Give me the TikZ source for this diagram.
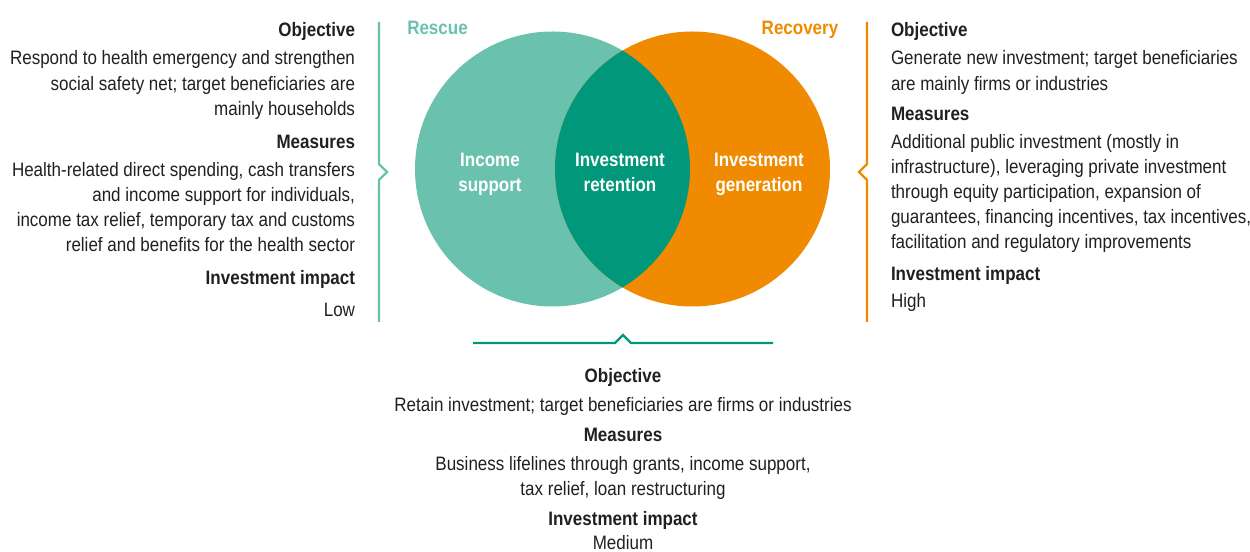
\documentclass[tikz,border=0pt]{standalone}
\usepackage{fontspec}
\setmainfont{Liberation Sans}[FakeStretch=0.875]
\definecolor{lteal}{HTML}{6AC2AE}
\definecolor{dgreen}{HTML}{00977A}
\definecolor{orng}{HTML}{F08A00}
\definecolor{txt}{HTML}{231F20}
\begin{document}
\begin{tikzpicture}[x=1bp,y=-1bp,
  every node/.style={inner sep=0pt,outer sep=0pt},
  body/.style={font=\fontsize{19.5}{25}\selectfont,text=txt},
  head/.style={font=\fontsize{19.5}{25}\selectfont\bfseries,text=txt},
  lft/.style={anchor=base east},
  rgt/.style={anchor=base west},
  mid/.style={anchor=base},
  clabel/.style={font=\fontsize{19.5}{25}\selectfont\bfseries,text=white,align=center},
  brk/.style={line width=2.4bp,line join=miter}]
\useasboundingbox (0,0) rectangle (1250,552);
% circles
\fill[lteal] (552.5,169) circle (137.5);
\fill[orng] (692.5,169) circle (137.5);
\begin{scope}
  \clip (552.5,169) circle (137.5);
  \fill[dgreen] (692.5,169) circle (137.5);
\end{scope}
\node[clabel] (cinc) at (490,174.5) {Income\\support};
\node[clabel] (cret) at (620,172.5) {Investment\\retention};
\node[clabel] (cgen) at (759,174.5) {Investment\\generation};
\node[font=\fontsize{19.5}{25}\selectfont\bfseries,text=lteal,anchor=base] (rescue) at (437.5,35) {Rescue};
\node[font=\fontsize{19.5}{25}\selectfont\bfseries,text=orng,anchor=base] (recov) at (800,35) {Recovery};
% brackets
\coordinate (lbt) at (379,22); \coordinate (lbb) at (379,322);
\draw[brk,lteal] (lbt) -- (379,164) -- (387,172) -- (379,180) -- (lbb);
\coordinate (rbt) at (867,22); \coordinate (rbb) at (867,322);
\draw[brk,orng] (rbt) -- (867,164) -- (859,172) -- (867,180) -- (rbb);
\coordinate (bbl) at (473,343); \coordinate (bbr) at (773,343);
\draw[brk,dgreen] (bbl) -- (615,343) -- (623,335) -- (631,343) -- (bbr);
% left text
\node[head,lft] (lh1) at (355,37) {Objective};
\node[body,lft] (la1) at (355,65) {Respond to health emergency and strengthen};
\node[body,lft] (la2) at (355,91) {social safety net; target beneficiaries are};
\node[body,lft] (la3) at (355,116) {mainly households};
\node[head,lft] (lh2) at (355,149) {Measures};
\node[body,lft] (lb1) at (355,177) {Health-related direct spending, cash transfers};
\node[body,lft] (lb2) at (355,202) {and income support for individuals,};
\node[body,lft] (lb3) at (355,227) {income tax relief, temporary tax and customs};
\node[body,lft] (lb4) at (355,252) {relief and benefits for the health sector};
\node[head,lft] (lh3) at (355,285) {Investment impact};
\node[body,lft] (lc1) at (355,317) {Low};
% right text
\node[head,rgt] (rh1) at (891,37) {Objective};
\node[body,rgt] (ra1) at (891,65) {Generate new investment; target beneficiaries};
\node[body,rgt] (ra2) at (891,91) {are mainly firms or industries};
\node[head,rgt] (rh2) at (891,121) {Measures};
\node[body,rgt] (rb1) at (891,149) {Additional public investment (mostly in};
\node[body,rgt] (rb2) at (891,174) {infrastructure), leveraging private investment};
\node[body,rgt] (rb3) at (891,199) {through equity participation, expansion of};
\node[body,rgt] (rb4) at (891,224) {guarantees, financing incentives, tax incentives,};
\node[body,rgt] (rb5) at (891,249) {facilitation and regulatory improvements};
\node[head,rgt] (rh3) at (891,281) {Investment impact};
\node[body,rgt] (rc1) at (891,308) {High};
% bottom text
\node[head,mid] (bh1) at (623,383) {Objective};
\node[body,mid] (ba1) at (623,411) {Retain investment; target beneficiaries are firms or industries};
\node[head,mid] (bh2) at (623,441) {Measures};
\node[body,mid] (bb1) at (623,470) {Business lifelines through grants, income support,};
\node[body,mid] (bb2) at (623,495) {tax relief, loan restructuring};
\node[head,mid] (bh3) at (623,525) {Investment impact};
\node[body,mid] (bc1) at (623,549) {Medium};
\end{tikzpicture}
\end{document}
